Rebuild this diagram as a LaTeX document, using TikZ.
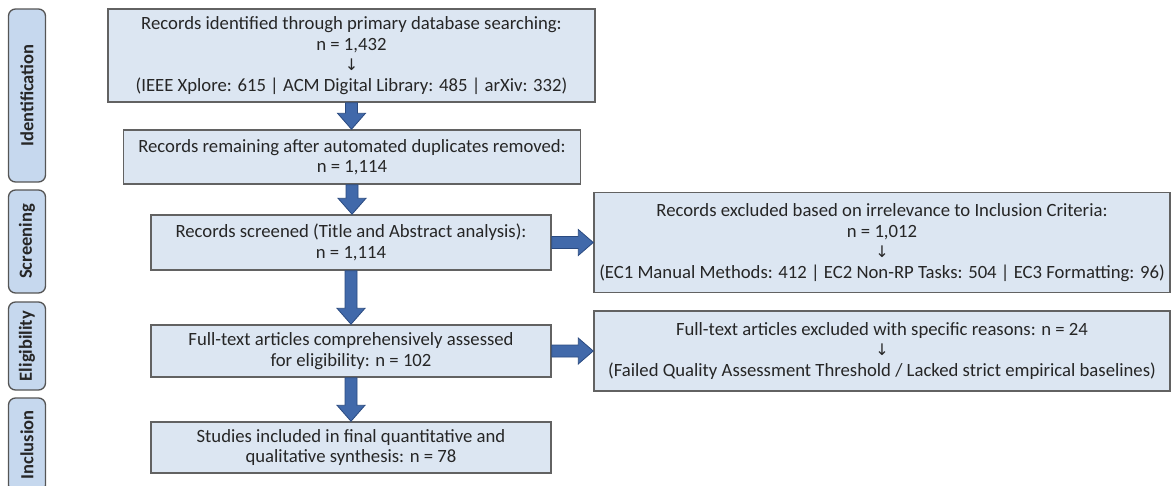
\documentclass[tikz,border=0pt]{standalone}
\usepackage{fontspec}
\setmainfont{Carlito}
\newfontfamily\arrowfont{DejaVu Sans}
\usetikzlibrary{calc}
\definecolor{boxfill}{HTML}{DCE6F2}
\definecolor{boxedge}{HTML}{626262}
\definecolor{tabfill}{HTML}{C6D8EE}
\definecolor{tabedge}{HTML}{555555}
\definecolor{txt}{HTML}{262626}
\definecolor{arrfill}{HTML}{4169AA}
\definecolor{arredge}{HTML}{2A4A80}
\tikzset{
  flowbox/.style={draw=boxedge, line width=1.5pt, fill=boxfill, text=txt, align=center,
    font=\fontsize{18.7}{20.5}\selectfont, inner sep=0pt},
  phasetab/.style={draw=tabedge, line width=1.3pt, fill=tabfill, rounded corners=7pt,
    inner sep=0pt},
  tablabel/.style={rotate=90, text=txt, font=\fontsize{18.5}{20}\selectfont\bfseries},
  blockarrow/.style={fill=arrfill, draw=arredge, line width=0.8pt, line join=miter}
}
\newcommand\dn{{\arrowfont\fontsize{16}{17}\selectfont ↓}}
\newcommand\varrow[2]{%
  \path let \p1=(#1.south), \p2=(#2.north) in
    [blockarrow] (\x1-6pt,\y1) -- (\x1+6pt,\y1) -- (\x1+6pt,\y2+16pt) -- (\x1+14pt,\y2+16pt)
    -- (\x1,\y2) -- (\x1-14pt,\y2+16pt) -- (\x1-6pt,\y2+16pt) -- cycle;}
\newcommand\harrow[2]{%
  \path let \p1=(#1.east), \p2=(#2.west) in
    [blockarrow] (\x1,\y1-6pt) -- (\x1,\y1+6pt) -- (\x2-15pt,\y1+6pt) -- (\x2-15pt,\y1+13pt)
    -- (\x2,\y1) -- (\x2-15pt,\y1-13pt) -- (\x2-15pt,\y1-6pt) -- cycle;}
\begin{document}
\begin{tikzpicture}[x=1pt,y=-1pt]
\useasboundingbox (0,0) rectangle (1172,485);
% phase tabs
\begin{scope}
\clip (0,0) rectangle (1172,485);
\node[phasetab, minimum width=37, minimum height=173] (tid) at (27,95.5) {};
\node[phasetab, minimum width=37, minimum height=103] (tsc) at (27,241.5) {};
\node[phasetab, minimum width=37, minimum height=88] (tel) at (27,346) {};
\node[phasetab, minimum width=37, minimum height=94] (tin) at (27,445) {};
\end{scope}
\node[tablabel] at (tid.center) {Identification};
\node[tablabel] at (tsc.center) {Screening};
\node[tablabel] at (tel.center) {Eligibility};
\node[tablabel] at (tin.center) {Inclusion};
% main column
\node[flowbox, minimum width=487, minimum height=93] (b1) at (351.5,55.5)
  {Records identified through primary database searching:\\ n = 1,432\\ \dn\\
   (IEEE Xplore: 615 | ACM Digital Library: 485 | arXiv: 332)};
\node[flowbox, minimum width=457, minimum height=54] (b2) at (352,157)
  {Records remaining after automated duplicates removed:\\ n = 1,114};
\node[flowbox, minimum width=400, minimum height=55] (b3) at (351,242.5)
  {Records screened (Title and Abstract analysis):\\ n = 1,114};
\node[flowbox, minimum width=400, minimum height=52] (b4) at (351,351)
  {Full-text articles comprehensively assessed\\ for eligibility: n = 102};
\node[flowbox, minimum width=400, minimum height=51] (b5) at (351,447.5)
  {Studies included in final quantitative and\\ qualitative synthesis: n = 78};
% exclusion column
\node[flowbox, minimum width=576, minimum height=100] (r1) at (882,242.5)
  {Records excluded based on irrelevance to Inclusion Criteria:\\ n = 1,012\\ \dn\\
   (EC1 Manual Methods: 412 | EC2 Non-RP Tasks: 504 | EC3 Formatting: 96)};
\node[flowbox, minimum width=576, minimum height=80] (r2) at (882,351)
  {Full-text articles excluded with specific reasons: n = 24\\ \dn\\
   (Failed Quality Assessment Threshold / Lacked strict empirical baselines)};
% arrows
\varrow{b1}{b2}
\varrow{b2}{b3}
\varrow{b3}{b4}
\varrow{b4}{b5}
\harrow{b3}{r1}
\harrow{b4}{r2}
\end{tikzpicture}
\end{document}
